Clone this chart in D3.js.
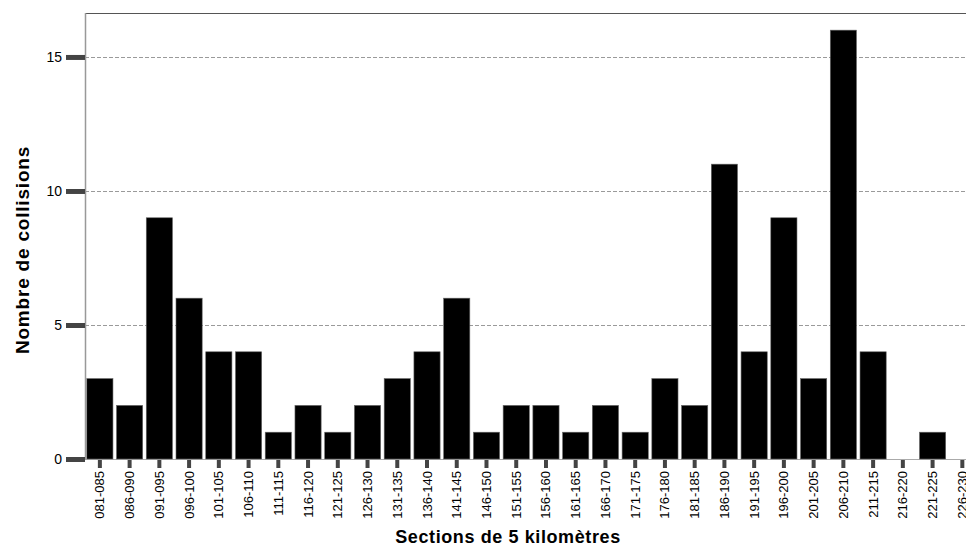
<!DOCTYPE html>
<html>
<head>
<meta charset="utf-8">
<script src="https://cdn.jsdelivr.net/npm/d3@7"></script>
<style>
  body { margin: 0; background: #fff; }
  svg { display: block; font-family: "Liberation Sans", Arial, sans-serif; }
</style>
</head>
<body>
<svg id="chart"></svg>
<script>
// sections de 5 km et nombre de collisions
var sections = ["081-085","086-090","091-095","096-100","101-105","106-110","111-115","116-120","121-125","126-130",
  "131-135","136-140","141-145","146-150","151-155","156-160","161-165","166-170","171-175","176-180",
  "181-185","186-190","191-195","196-200","201-205","206-210","211-215","216-220","221-225","226-230"];
var collisions = [3,2,9,6,4,4,1,2,1,2,3,4,6,1,2,2,1,2,1,3,2,11,4,9,3,16,4,0,1,0];
var yTicks = [0,5,10,15];

var width = 966, height = 549;
var plotLeft = 85, plotTop = 13, plotBottom = 459;
var step = 29.74;

var svg = d3.select("#chart").attr("width", width).attr("height", height);

var x = d3.scaleBand()
    .domain(sections)
    .range([plotLeft, plotLeft + step * sections.length])
    .paddingInner(0.12)
    .paddingOuter(0.06);

var y = d3.scaleLinear()
    .domain([0, 16.64])
    .range([plotBottom, plotTop]);

// grille pointillée
svg.append("g")
    .selectAll("line")
    .data(yTicks.filter(d => d > 0))
    .enter().append("line")
    .attr("x1", plotLeft).attr("x2", width)
    .attr("y1", d => Math.round(y(d)) + 0.5).attr("y2", d => Math.round(y(d)) + 0.5)
    .attr("stroke", "#9a9a9a")
    .attr("stroke-dasharray", "4,2");

// cadre
svg.append("line")
    .attr("x1", plotLeft).attr("x2", width)
    .attr("y1", plotTop + 0.5).attr("y2", plotTop + 0.5)
    .attr("stroke", "#555");
svg.append("line")
    .attr("x1", plotLeft).attr("x2", width)
    .attr("y1", plotBottom + 0.5).attr("y2", plotBottom + 0.5)
    .attr("stroke", "#aaa");

// barres
svg.append("g")
    .selectAll("rect")
    .data(collisions)
    .enter().append("rect")
    .attr("x", (d, i) => x(sections[i]))
    .attr("y", d => y(d))
    .attr("width", x.bandwidth())
    .attr("height", d => plotBottom - y(d))
    .attr("fill", "#000")
    .attr("stroke", "#666")
    .attr("stroke-width", 0.6);

svg.append("line")
    .attr("x1", plotLeft + 0.5).attr("x2", plotLeft + 0.5)
    .attr("y1", plotTop).attr("y2", plotBottom + 1)
    .attr("stroke", "#999")
    .attr("stroke-width", 1.5);

// axe y
var yAxis = svg.append("g")
    .attr("transform", "translate(" + plotLeft + ",0)")
    .call(d3.axisLeft(y).tickValues(yTicks).tickSize(19).tickPadding(4));
yAxis.select(".domain").remove();
yAxis.selectAll(".tick line").attr("stroke", "#444").attr("stroke-width", 5);
yAxis.selectAll(".tick text")
    .attr("font-size", 14)
    .attr("fill", "#000")
    .attr("font-family", "Liberation Sans, Arial, sans-serif");

// axe x
var xAxis = svg.append("g")
    .attr("transform", "translate(0," + (plotBottom + 1) + ")")
    .call(d3.axisBottom(x).tickSize(8).tickPadding(0));
xAxis.select(".domain").remove();
xAxis.selectAll(".tick line").attr("stroke", "#444").attr("stroke-width", 4);
xAxis.selectAll(".tick text")
    .attr("font-size", 13)
    .attr("fill", "#000")
    .attr("font-family", "Liberation Sans, Arial, sans-serif")
    .attr("text-anchor", "end")
    .attr("dy", null)
    .attr("transform", "translate(4.5,11) rotate(-90)")
    .attr("x", 0).attr("y", 0);

// titres des axes
svg.append("text")
    .attr("transform", "translate(29," + ((plotTop + plotBottom) / 2 + 14) + ") rotate(-90)")
    .attr("text-anchor", "middle")
    .attr("font-size", 19)
    .attr("font-weight", "bold")
    .attr("letter-spacing", 0.8)
    .text("Nombre de collisions");

svg.append("text")
    .attr("x", 508).attr("y", 543)
    .attr("text-anchor", "middle")
    .attr("font-size", 18)
    .attr("font-weight", "bold")
    .attr("letter-spacing", 0.6)
    .text("Sections de 5 kilomètres");
</script>
</body>
</html>
